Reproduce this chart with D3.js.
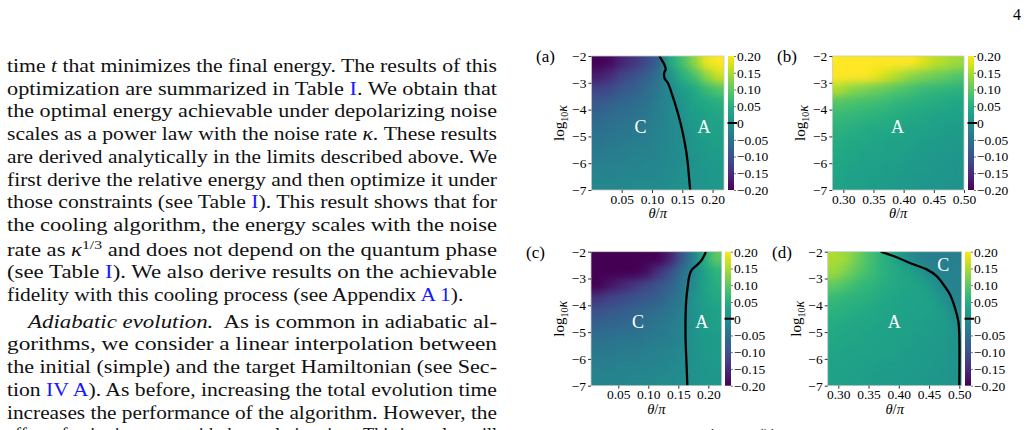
<!DOCTYPE html>
<html><head><meta charset="utf-8">
<script src="https://cdn.jsdelivr.net/npm/d3@7"></script>
<style>
body{margin:0;background:#fff;}
svg{display:block;font-family:"Liberation Serif","Times New Roman",serif;}
</style></head><body>
<svg id="page" width="1029" height="430"></svg>
<script>
// ---------------- DATA ----------------
const logKappaRows = [-2.25,-2.75,-3.25,-3.75,-4.25,-4.75,-5.25,-5.75,-6.25,-6.75];
const yTicks = [-2,-3,-4,-5,-6,-7];
const xTicksLeft = [0.05,0.10,0.15,0.20];
const xTicksRight = [0.30,0.35,0.40,0.45,0.50];
const cbTicks = [-0.20,-0.15,-0.10,-0.05,0,0.05,0.10,0.15,0.20];
const colorDomain = [-0.2, 0.2];

const thetaA = [0.01,0.03,0.05,0.07,0.09,0.11,0.13,0.15,0.17,0.19,0.21];
const valuesA = [
 [-0.22,-0.19,-0.16,-0.14,-0.11,-0.08, 0.04, 0.08, 0.13, 0.19, 0.23],
 [-0.17,-0.15,-0.12,-0.10,-0.08,-0.05, 0.00, 0.05, 0.08, 0.13, 0.17],
 [-0.12,-0.11,-0.09,-0.08,-0.06,-0.04,-0.01, 0.02, 0.04, 0.07, 0.09],
 [-0.09,-0.08,-0.07,-0.06,-0.05,-0.03,-0.015,0.01, 0.03, 0.04, 0.05],
 [-0.07,-0.06,-0.055,-0.05,-0.04,-0.03,-0.015,0.00, 0.02, 0.03, 0.035],
 [-0.055,-0.05,-0.045,-0.04,-0.035,-0.025,-0.015,-0.005,0.015,0.025,0.03],
 [-0.045,-0.04,-0.035,-0.03,-0.03,-0.02,-0.015,-0.005,0.01,0.02,0.025],
 [-0.035,-0.03,-0.03,-0.025,-0.02,-0.02,-0.01,-0.005,0.005,0.015,0.02],
 [-0.025,-0.025,-0.02,-0.02,-0.015,-0.015,-0.01,-0.005,0.005,0.01,0.015],
 [-0.015,-0.015,-0.015,-0.01,-0.01,-0.01,-0.005,0.00,0.005,0.01,0.015]
];
const contourA = [[0.112,-2],[0.116,-2.15],[0.120,-2.3],[0.1226,-2.5],[0.120,-2.63],[0.121,-2.85],[0.126,-3.0],[0.134,-3.5],[0.141,-4.0],[0.147,-4.5],[0.152,-5.0],[0.156,-5.5],[0.159,-6.0],[0.161,-6.5],[0.163,-7]];
const labelsA = [["C",0.081,-4.65],["A",0.186,-4.65]];

const thetaB = [0.292,0.312,0.332,0.352,0.372,0.392,0.412,0.432,0.452,0.472,0.492];
const valuesB = [
 [0.25,0.25,0.25,0.24,0.23,0.22,0.20,0.18,0.16,0.15,0.14],
 [0.23,0.22,0.21,0.19,0.17,0.15,0.13,0.12,0.11,0.10,0.09],
 [0.15,0.13,0.12,0.11,0.10,0.09,0.08,0.07,0.065,0.06,0.055],
 [0.09,0.085,0.08,0.075,0.07,0.06,0.055,0.05,0.045,0.04,0.035],
 [0.07,0.065,0.06,0.055,0.05,0.045,0.04,0.035,0.03,0.03,0.025],
 [0.055,0.05,0.045,0.04,0.04,0.035,0.03,0.03,0.025,0.02,0.02],
 [0.045,0.04,0.04,0.035,0.03,0.03,0.025,0.02,0.02,0.015,0.015],
 [0.04,0.035,0.03,0.03,0.025,0.025,0.02,0.015,0.015,0.01,0.01],
 [0.035,0.03,0.025,0.025,0.02,0.02,0.015,0.015,0.01,0.01,0.005],
 [0.03,0.025,0.025,0.02,0.02,0.015,0.015,0.01,0.01,0.005,0.005]
];
const contourB = [];
const labelsB = [["A",0.390,-4.65]];

const thetaC = [0.014,0.034,0.054,0.074,0.094,0.114,0.134,0.154,0.174,0.194,0.214];
const valuesC = [
 [-0.24,-0.24,-0.24,-0.24,-0.23,-0.21,-0.17,-0.10,-0.03,0.05,0.10],
 [-0.23,-0.23,-0.22,-0.21,-0.19,-0.15,-0.11,-0.06,-0.02,0.03,0.06],
 [-0.20,-0.18,-0.16,-0.14,-0.12,-0.10,-0.08,-0.05,-0.01,0.03,0.05],
 [-0.14,-0.12,-0.11,-0.10,-0.09,-0.08,-0.06,-0.04,0.00,0.025,0.04],
 [-0.10,-0.09,-0.085,-0.075,-0.065,-0.055,-0.045,-0.03,0.00,0.02,0.03],
 [-0.075,-0.07,-0.065,-0.06,-0.05,-0.045,-0.035,-0.025,0.00,0.02,0.025],
 [-0.055,-0.05,-0.045,-0.045,-0.04,-0.035,-0.03,-0.02,0.00,0.015,0.02],
 [-0.04,-0.04,-0.035,-0.035,-0.03,-0.025,-0.02,-0.015,0.00,0.015,0.02],
 [-0.03,-0.03,-0.025,-0.025,-0.02,-0.02,-0.015,-0.01,0.00,0.01,0.015],
 [-0.02,-0.02,-0.02,-0.015,-0.015,-0.01,-0.01,-0.005,0.00,0.01,0.01]
];
const contourC = [[0.196,-2],[0.189,-2.31],[0.181,-2.5],[0.172,-2.69],[0.168,-2.94],[0.166,-3.25],[0.163,-3.87],[0.162,-5.12],[0.164,-6.36],[0.165,-7]];
const labelsC = [["C",0.083,-4.63],["A",0.189,-4.63]];

const thetaD = [0.293,0.313,0.333,0.353,0.373,0.393,0.413,0.433,0.453,0.473,0.493];
const valuesD = [
 [0.15,0.14,0.11,0.08,0.055,0.035,0.00,-0.02,-0.03,-0.03,-0.03],
 [0.14,0.12,0.095,0.075,0.055,0.045,0.03,0.015,-0.02,-0.025,-0.025],
 [0.10,0.085,0.07,0.06,0.05,0.04,0.035,0.03,0.015,-0.02,-0.025],
 [0.07,0.06,0.055,0.05,0.04,0.035,0.03,0.03,0.025,0.005,-0.02],
 [0.055,0.05,0.045,0.04,0.035,0.03,0.03,0.025,0.025,0.02,-0.01],
 [0.045,0.04,0.035,0.035,0.03,0.03,0.025,0.025,0.02,0.02,0.00],
 [0.04,0.035,0.035,0.03,0.03,0.025,0.025,0.02,0.02,0.015,0.005],
 [0.035,0.03,0.03,0.03,0.025,0.025,0.02,0.02,0.015,0.015,0.005],
 [0.03,0.03,0.025,0.025,0.02,0.02,0.02,0.015,0.015,0.01,0.005],
 [0.03,0.025,0.025,0.02,0.02,0.02,0.015,0.015,0.01,0.01,0.005]
];
const contourD = [[0.370,-2],[0.391,-2.16],[0.424,-2.47],[0.446,-2.66],[0.4626,-2.91],[0.4736,-3.22],[0.4846,-3.6],[0.4929,-4.1],[0.4984,-4.59],[0.500,-5.09],[0.500,-7]];
const labelsD = [["A",0.3926,-4.63],["C",0.4736,-2.47]];

const bodyLines = [
 [["time "],["t","i"],[" that minimizes the final energy. The results of this"]],
 [["optimization are summarized in Table "],["I","b"],[". We obtain that"]],
 [["the optimal energy achievable under depolarizing noise"]],
 [["scales as a power law with the noise rate "],["κ","i"],[". These results"]],
 [["are derived analytically in the limits described above. We"]],
 [["first derive the relative energy and then optimize it under"]],
 [["those constraints (see Table "],["I","b"],["). This result shows that for"]],
 [["the cooling algorithm, the energy scales with the noise"]],
 [["rate as "],["κ","i"],["1/3","s"],[" and does not depend on the quantum phase"]],
 [["(see Table "],["I","b"],["). We also derive results on the achievable"]],
 [["fidelity with this cooling process (see Appendix "],["A 1","b"],[")."]],
 [["Adiabatic evolution.","i"],["  As is common in adiabatic al-"]],
 [["gorithms, we consider a linear interpolation between"]],
 [["the initial (simple) and the target Hamiltonian (see Sec-"]],
 [["tion "],["IV A","b"],["). As before, increasing the total evolution time"]],
 [["increases the performance of the algorithm. However, the"]],
 [["effect of noise increases with the evolution time. This interplay will"]]
];
const paragraphLastLines = [10];
const paragraphFirstLines = [11];

// ---------------- DRAW ----------------
const svg = d3.select("#page");
const defs = svg.append("defs");
const flt = defs.append("filter").attr("id","smooth")
  .attr("x","-5%").attr("y","-5%").attr("width","110%").attr("height","110%")
  .attr("color-interpolation-filters","sRGB");
flt.append("feGaussianBlur").attr("stdDeviation",4.5);
flt.append("feComponentTransfer").append("feFuncA").attr("type","linear").attr("slope",60).attr("intercept",0);

const color = d3.scaleSequential(d3.interpolateViridis).domain(colorDomain).clamp(true);
const grad = defs.append("linearGradient").attr("id","cbgrad").attr("x1",0).attr("y1",1).attr("x2",0).attr("y2",0);
d3.range(0,1.0001,0.05).forEach(t=>{
  grad.append("stop").attr("offset",t).attr("stop-color",d3.interpolateViridis(t));
});

const layout = [
 {x0:591.4, x1:724,   y0:56,    y1:190,   dom:[0,0.2188],      cbx:728, name:"(a)", nx:536},
 {x0:832.3, x1:964,   y0:56,    y1:190,   dom:[0.2818,0.5],    cbx:968, name:"(b)", nx:777},
 {x0:591,   x1:721.7, y0:251.7, y1:385.7, dom:[0.0045,0.2223], cbx:725, name:"(c)", nx:526},
 {x0:827.7, x1:961.7, y0:251.7, y1:385.7, dom:[0.2825,0.504],  cbx:965, name:"(d)", nx:772}
];
const panelData = [
 {theta:thetaA, values:valuesA, contour:contourA, labels:labelsA, xt:xTicksLeft},
 {theta:thetaB, values:valuesB, contour:contourB, labels:labelsB, xt:xTicksRight},
 {theta:thetaC, values:valuesC, contour:contourC, labels:labelsC, xt:xTicksLeft},
 {theta:thetaD, values:valuesD, contour:contourD, labels:labelsD, xt:xTicksRight}
];

function edges(centers, dom){
  return centers.map((c,i)=>[
    i===0 ? dom[0] : (centers[i-1]+c)/2,
    i===centers.length-1 ? dom[1] : (c+centers[i+1])/2
  ]);
}
const fmtMinus = v => (v<0?"\u2212":"") + Math.abs(v);
const tickFont = 13.5;

layout.forEach((L,pi)=>{
  const P = panelData[pi];
  const x = d3.scaleLinear().domain(L.dom).range([L.x0,L.x1]);
  const y = d3.scaleLinear().domain([-7,-2]).range([L.y1,L.y0]);
  const g = svg.append("g");
  const clipId = "clip"+pi;
  defs.append("clipPath").attr("id",clipId).append("rect")
    .attr("x",L.x0).attr("y",L.y0).attr("width",L.x1-L.x0).attr("height",L.y1-L.y0);
  const hm = g.append("g").attr("clip-path",`url(#${clipId})`).append("g").attr("filter","url(#smooth)");
  const colE = edges(P.theta, L.dom);
  const rowE = edges(logKappaRows, [-2,-7]);
  P.values.forEach((row,ri)=>{
    row.forEach((v,ci)=>{
      const xa = x(colE[ci][0]), xb = x(colE[ci][1]);
      const ya = y(rowE[ri][0]), yb = y(rowE[ri][1]);
      hm.append("rect").attr("x",Math.min(xa,xb)).attr("y",Math.min(ya,yb))
        .attr("width",Math.abs(xb-xa)+0.5).attr("height",Math.abs(yb-ya)+0.5)
        .attr("fill",color(v));
    });
  });
  if(P.contour.length){
    g.append("path").datum(P.contour)
      .attr("d",d3.line().x(d=>x(d[0])).y(d=>y(d[1])).curve(d3.curveCatmullRom.alpha(0.5)))
      .attr("fill","none").attr("stroke","#000").attr("stroke-width",2.3).attr("clip-path",`url(#${clipId})`);
  }
  P.labels.forEach(l=>{
    g.append("text").attr("x",x(l[1])).attr("y",y(l[2])).attr("dy","0.35em")
      .attr("text-anchor","middle").attr("fill","#fff").attr("font-size",18).text(l[0]);
  });
  g.append("rect").attr("x",L.x0).attr("y",L.y0).attr("width",L.x1-L.x0).attr("height",L.y1-L.y0)
    .attr("fill","none").attr("stroke","#c8c8c8").attr("stroke-width",0.8);
  const ax = g.append("g").attr("transform",`translate(0,${L.y1})`)
    .call(d3.axisBottom(x).tickValues(P.xt).tickSize(3).tickPadding(1).tickFormat(d3.format(".2f")));
  const ay = g.append("g").attr("transform",`translate(${L.x0},0)`)
    .call(d3.axisLeft(y).tickValues(yTicks).tickSize(3).tickPadding(2).tickFormat(fmtMinus));
  [ax,ay].forEach(a=>{
    a.select(".domain").remove();
    a.selectAll("text").attr("font-size",tickFont).attr("font-family","Liberation Serif").attr("fill","#000");
    a.selectAll("line").attr("stroke","#000").attr("stroke-width",0.8);
  });
  const xl = g.append("text").attr("x",(L.x0+L.x1)/2).attr("y",L.y1+28).attr("text-anchor","middle").attr("font-size",14.5);
  xl.append("tspan").attr("font-style","italic").text("θ");
  xl.append("tspan").text("/");
  xl.append("tspan").attr("font-style","italic").text("π");
  const yl = g.append("text").attr("transform",`translate(${L.x0-27},${(L.y0+L.y1)/2}) rotate(-90)`)
    .attr("text-anchor","middle").attr("font-size",15);
  yl.append("tspan").text("log");
  yl.append("tspan").attr("font-size",10).attr("dy",4).text("10");
  yl.append("tspan").attr("font-style","italic").attr("font-size",14).attr("dy",-1).text("κ");
  g.append("text").attr("x",L.nx).attr("y",L.y0+6).attr("font-size",17).text(L.name);
  const cbw = 6;
  const cs = d3.scaleLinear().domain(colorDomain).range([L.y1,L.y0]);
  g.append("rect").attr("x",L.cbx).attr("y",L.y0).attr("width",cbw).attr("height",L.y1-L.y0)
    .attr("fill","url(#cbgrad)");
  const ac = g.append("g").attr("transform",`translate(${L.cbx+cbw},0)`)
    .call(d3.axisRight(cs).tickValues(cbTicks).tickSize(2).tickPadding(1)
      .tickFormat(d=> d===0 ? "0" : (d<0?"\u2212":"")+Math.abs(d).toFixed(2)));
  ac.select(".domain").remove();
  ac.selectAll("text").attr("font-size",tickFont).attr("font-family","Liberation Serif").attr("fill","#000");
  ac.selectAll("line").attr("stroke","#555").attr("stroke-width",0.8);
  g.append("line").attr("x1",L.cbx-0.5).attr("x2",L.cbx+cbw+3).attr("y1",cs(0)).attr("y2",cs(0))
    .attr("stroke","#000").attr("stroke-width",2);
});

// ---------------- BODY TEXT ----------------
const textLeft = 7, textRight = 497, indent = 21, lineGap = 22.7, stretch = 1.19;
let yb = 72;
bodyLines.forEach((segs,li)=>{
  if(li===8) yb += 2;
  if(paragraphFirstLines.includes(li)) yb += 4;
  const xs = textLeft + (paragraphFirstLines.includes(li) ? indent : 0);
  const t = svg.append("text").attr("x",xs).attr("y",yb).attr("font-size",18).attr("fill","#111")
    .attr("xml:space","preserve").style("white-space","pre");
  let shifted = false;
  segs.forEach(s=>{
    const ts = t.append("tspan").text(s[0]);
    if(s[1]==="i") ts.attr("font-style","italic");
    if(s[1]==="b") ts.attr("fill","#1a1aff");
    if(s[1]==="s"){ ts.attr("font-size",12.5).attr("dy",-7); shifted = true; }
    else if(shifted){ ts.attr("dy",7); shifted = false; }
  });
  const natural = t.node().getComputedTextLength();
  const target = paragraphLastLines.includes(li) ? natural*stretch : (textRight - xs);
  t.attr("textLength", target).attr("lengthAdjust","spacingAndGlyphs");
  yb += lineGap;
});

svg.append("text").attr("x",1013).attr("y",20).attr("font-size",16).text("4");
svg.append("text").attr("x",695).attr("y",436).attr("font-size",11).text("cool");
svg.append("text").attr("x",753).attr("y",436).attr("font-size",11).text("adiab");
</script>
</body></html>
